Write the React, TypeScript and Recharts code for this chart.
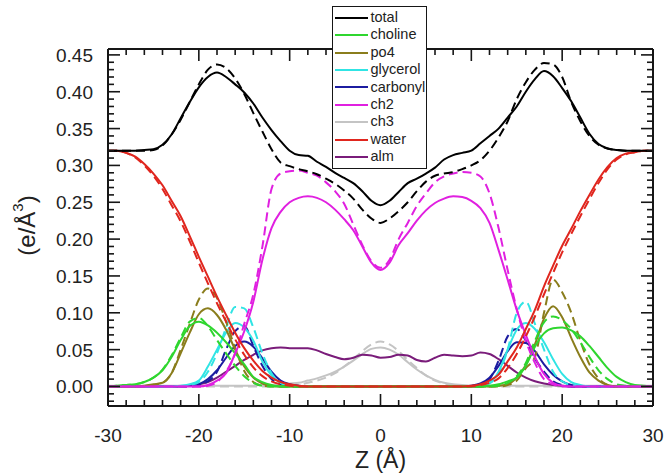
import React from 'react';
import { Legend, Line, LineChart, XAxis, YAxis } from 'recharts';

const FONT = '"Liberation Sans", Arial, Helvetica, sans-serif';

// Z (Å), 1 Å steps
const z = [
  -30, -29, -28, -27, -26, -25, -24, -23, -22, -21,
  -20, -19, -18, -17, -16, -15, -14, -13, -12, -11,
  -10, -9, -8, -7, -6, -5, -4, -3, -2, -1,
  0, 1, 2, 3, 4, 5, 6, 7, 8, 9,
  10, 11, 12, 13, 14, 15, 16, 17, 18, 19,
  20, 21, 22, 23, 24, 25, 26, 27, 28, 29,
  30,
];

const totalSolid = [
  0.32, 0.32, 0.32, 0.32, 0.321, 0.322, 0.328, 0.342, 0.364, 0.386,
  0.406, 0.42, 0.426, 0.42, 0.41, 0.399, 0.384, 0.365, 0.348, 0.333,
  0.32, 0.314, 0.313, 0.305, 0.298, 0.29, 0.283, 0.276, 0.265, 0.252,
  0.246, 0.252, 0.264, 0.276, 0.282, 0.289, 0.297, 0.308, 0.314, 0.317,
  0.32, 0.33, 0.34, 0.35, 0.365, 0.38, 0.4, 0.417, 0.428, 0.421,
  0.405, 0.387, 0.365, 0.343, 0.329, 0.323, 0.321, 0.32, 0.32, 0.32,
  0.32,
];
const totalDashed = [
  0.32, 0.32, 0.32, 0.32, 0.32, 0.321, 0.327, 0.342, 0.362, 0.386,
  0.41, 0.43, 0.437, 0.432, 0.418, 0.397, 0.371, 0.346, 0.322, 0.304,
  0.299, 0.295, 0.292, 0.288, 0.282, 0.275, 0.266, 0.255, 0.24, 0.228,
  0.222, 0.228, 0.238, 0.25, 0.265, 0.278, 0.286, 0.289, 0.291, 0.295,
  0.3, 0.307, 0.32, 0.338, 0.36, 0.39, 0.413, 0.43, 0.439, 0.437,
  0.42, 0.386, 0.36, 0.34, 0.328, 0.323, 0.321, 0.32, 0.32, 0.32,
  0.32,
];
const cholineSolid = [
  0, 0.001, 0.002, 0.003, 0.006, 0.012, 0.022, 0.04, 0.063, 0.082,
  0.088, 0.083, 0.073, 0.06, 0.045, 0.03, 0.013, 0.006, 0.002, 0,
  0, 0, 0, 0, 0, 0, 0, 0, 0, 0,
  0, 0, 0, 0, 0, 0, 0, 0, 0, 0,
  0, 0, 0.001, 0.003, 0.007, 0.012, 0.028, 0.054, 0.072, 0.079,
  0.08, 0.076, 0.068, 0.055, 0.04, 0.025, 0.013, 0.006, 0.002, 0.001,
  0,
];
const cholineDashed = [
  0, 0.001, 0.002, 0.003, 0.006, 0.012, 0.023, 0.042, 0.066, 0.088,
  0.093, 0.082, 0.063, 0.045, 0.028, 0.014, 0.005, 0.001, 0, 0,
  0, 0, 0, 0, 0, 0, 0, 0, 0, 0,
  0, 0, 0, 0, 0, 0, 0, 0, 0, 0,
  0, 0, 0, 0.001, 0.005, 0.014, 0.032, 0.062, 0.087, 0.095,
  0.09, 0.078, 0.06, 0.04, 0.022, 0.01, 0.003, 0.001, 0, 0,
  0,
];
const po4Solid = [
  0, 0, 0, 0, 0.001, 0.003, 0.005, 0.018, 0.045, 0.073,
  0.098, 0.106, 0.097, 0.077, 0.05, 0.027, 0.012, 0.004, 0.001, 0,
  0, 0, 0, 0, 0, 0, 0, 0, 0, 0,
  0, 0, 0, 0, 0, 0, 0, 0, 0, 0,
  0, 0, 0, 0.001, 0.003, 0.012, 0.029, 0.057, 0.092, 0.109,
  0.094, 0.066, 0.04, 0.019, 0.008, 0.002, 0, 0, 0, 0,
  0,
];
const po4Dashed = [
  0, 0, 0, 0, 0, 0.002, 0.005, 0.018, 0.05, 0.085,
  0.118, 0.133, 0.12, 0.088, 0.052, 0.021, 0.006, 0.001, 0, 0,
  0, 0, 0, 0, 0, 0, 0, 0, 0, 0,
  0, 0, 0, 0, 0, 0, 0, 0, 0, 0,
  0, 0, 0, 0, 0.002, 0.008, 0.025, 0.04, 0.1, 0.145,
  0.128, 0.1, 0.062, 0.03, 0.011, 0.002, 0, 0, 0, 0,
  0,
];
const glycerolSolid = [
  0, 0, 0, 0, 0, 0, 0, 0, 0.001, 0.003,
  0.008, 0.027, 0.05, 0.073, 0.086, 0.08, 0.062, 0.034, 0.015, 0.005,
  0.001, 0, 0, 0, 0, 0, 0, 0, 0, 0,
  0, 0, 0, 0, 0, 0, 0, 0, 0, 0,
  0, 0.001, 0.005, 0.02, 0.05, 0.077, 0.086, 0.078, 0.06, 0.037,
  0.017, 0.006, 0.002, 0, 0, 0, 0, 0, 0, 0,
  0,
];
const glycerolDashed = [
  0, 0, 0, 0, 0, 0, 0, 0, 0, 0.002,
  0.006, 0.02, 0.045, 0.08, 0.108, 0.106, 0.08, 0.045, 0.018, 0.005,
  0.001, 0, 0, 0, 0, 0, 0, 0, 0, 0,
  0, 0, 0, 0, 0, 0, 0, 0, 0, 0,
  0, 0, 0.004, 0.018, 0.05, 0.1, 0.115, 0.085, 0.05, 0.02,
  0.007, 0.002, 0, 0, 0, 0, 0, 0, 0, 0,
  0,
];
const carbonylSolid = [
  0, 0, 0, 0, 0, 0, 0, 0, 0, 0.001,
  0.003, 0.01, 0.022, 0.039, 0.055, 0.061, 0.054, 0.038, 0.02, 0.008,
  0.003, 0.001, 0, 0, 0, 0, 0, 0, 0, 0,
  0, 0, 0, 0, 0, 0, 0, 0, 0, 0,
  0.001, 0.004, 0.012, 0.028, 0.048, 0.06, 0.059, 0.048, 0.03, 0.016,
  0.007, 0.002, 0, 0, 0, 0, 0, 0, 0, 0,
  0,
];
const carbonylDashed = [
  0, 0, 0, 0, 0, 0, 0, 0, 0, 0,
  0.002, 0.007, 0.02, 0.05, 0.075, 0.082, 0.055, 0.028, 0.01, 0.003,
  0.001, 0, 0, 0, 0, 0, 0, 0, 0, 0,
  0, 0, 0, 0, 0, 0, 0, 0, 0, 0,
  0, 0.003, 0.01, 0.035, 0.068, 0.078, 0.062, 0.038, 0.02, 0.007,
  0.002, 0, 0, 0, 0, 0, 0, 0, 0, 0,
  0,
];
const ch2Solid = [
  0, 0, 0, 0, 0, 0, 0, 0, 0, 0,
  0, 0.002, 0.008, 0.018, 0.045, 0.075, 0.115, 0.172, 0.215, 0.237,
  0.25, 0.256, 0.258, 0.256, 0.25, 0.24, 0.227, 0.212, 0.19, 0.168,
  0.158, 0.168, 0.192, 0.208, 0.225, 0.239, 0.249, 0.255, 0.258, 0.257,
  0.252, 0.242, 0.222, 0.185, 0.145, 0.104, 0.07, 0.04, 0.017, 0.005,
  0.001, 0, 0, 0, 0, 0, 0, 0, 0, 0,
  0,
];
const ch2Dashed = [
  0, 0, 0, 0, 0, 0, 0, 0, 0, 0,
  0, 0.001, 0.006, 0.02, 0.045, 0.085, 0.125, 0.19, 0.268, 0.289,
  0.292, 0.293, 0.29, 0.286, 0.277, 0.265, 0.248, 0.22, 0.192, 0.17,
  0.161, 0.172, 0.2, 0.222, 0.245, 0.262, 0.277, 0.285, 0.289, 0.291,
  0.29, 0.285, 0.262, 0.215, 0.158, 0.105, 0.062, 0.032, 0.01, 0.003,
  0, 0, 0, 0, 0, 0, 0, 0, 0, 0,
  0,
];
const ch3Solid = [
  0.001, 0.001, 0.001, 0.001, 0.001, 0.001, 0.001, 0.001, 0.001, 0.001,
  0.001, 0.001, 0.001, 0.001, 0.001, 0.001, 0.001, 0.002, 0.002, 0.003,
  0.004, 0.005, 0.008, 0.011, 0.015, 0.02, 0.027, 0.035, 0.044, 0.051,
  0.053, 0.05, 0.043, 0.033, 0.023, 0.015, 0.009, 0.005, 0.003, 0.002,
  0.001, 0.001, 0.001, 0.001, 0.001, 0.001, 0.001, 0.001, 0.001, 0.001,
  0.001, 0.001, 0.001, 0.001, 0.001, 0.001, 0.001, 0.001, 0.001, 0.001,
  0.001,
];
const ch3Dashed = [
  0, 0, 0, 0, 0, 0, 0, 0, 0, 0,
  0, 0, 0, 0, 0, 0, 0, 0, 0, 0,
  0.001, 0.002, 0.005, 0.008, 0.012, 0.018, 0.027, 0.037, 0.048, 0.057,
  0.061, 0.057, 0.048, 0.036, 0.025, 0.015, 0.008, 0.004, 0.002, 0.001,
  0, 0, 0, 0, 0, 0, 0, 0, 0, 0,
  0, 0, 0, 0, 0, 0, 0, 0, 0, 0,
  0,
];
const waterSolid = [
  0.32, 0.32, 0.317, 0.312, 0.302, 0.289, 0.273, 0.252, 0.231, 0.204,
  0.176, 0.149, 0.122, 0.097, 0.073, 0.052, 0.035, 0.021, 0.012, 0.006,
  0.003, 0.001, 0, 0, 0, 0, 0, 0, 0, 0,
  0, 0, 0, 0, 0, 0, 0, 0, 0, 0,
  0.001, 0.003, 0.008, 0.016, 0.034, 0.053, 0.078, 0.104, 0.136, 0.164,
  0.191, 0.214, 0.238, 0.26, 0.281, 0.298, 0.31, 0.316, 0.318, 0.32,
  0.32,
];
const waterDashed = [
  0.32, 0.32, 0.317, 0.311, 0.3, 0.286, 0.268, 0.246, 0.224, 0.197,
  0.168, 0.14, 0.113, 0.088, 0.064, 0.043, 0.026, 0.014, 0.007, 0.003,
  0.001, 0, 0, 0, 0, 0, 0, 0, 0, 0,
  0, 0, 0, 0, 0, 0, 0, 0, 0, 0,
  0, 0.002, 0.005, 0.011, 0.025, 0.044, 0.068, 0.095, 0.125, 0.154,
  0.182, 0.207, 0.231, 0.254, 0.276, 0.295, 0.308, 0.315, 0.318, 0.32,
  0.32,
];
const almSolid = [
  0, 0, 0, 0, 0, 0, 0, 0, 0, 0.001,
  0.003, 0.006, 0.012, 0.02, 0.028, 0.036, 0.043, 0.049, 0.052, 0.053,
  0.052, 0.052, 0.052, 0.049, 0.044, 0.04, 0.037, 0.039, 0.043, 0.042,
  0.039, 0.04, 0.043, 0.042, 0.036, 0.034, 0.039, 0.043, 0.042, 0.041,
  0.042, 0.046, 0.044, 0.037, 0.028, 0.019, 0.012, 0.007, 0.004, 0.002,
  0.001, 0, 0, 0, 0, 0, 0, 0, 0, 0,
  0,
];

// legend order
const components = [
  { key: 'total', color: '#000000', solid: totalSolid, dashed: totalDashed },
  { key: 'choline', color: '#2fd62f', solid: cholineSolid, dashed: cholineDashed },
  { key: 'po4', color: '#8a7d1c', solid: po4Solid, dashed: po4Dashed },
  { key: 'glycerol', color: '#30e4e4', solid: glycerolSolid, dashed: glycerolDashed },
  { key: 'carbonyl', color: '#1c1ca0', solid: carbonylSolid, dashed: carbonylDashed },
  { key: 'ch2', color: '#e020e0', solid: ch2Solid, dashed: ch2Dashed },
  { key: 'ch3', color: '#c4c4c4', solid: ch3Solid, dashed: ch3Dashed },
  { key: 'water', color: '#e0261e', solid: waterSolid, dashed: waterDashed },
  { key: 'alm', color: '#7a1c7a', solid: almSolid, dashed: null as number[] | null },
];
const drawOrder = ['ch3', 'alm', 'carbonyl', 'glycerol', 'po4', 'choline', 'ch2', 'water', 'total'];

const xMajor = [-30, -20, -10, 0, 10, 20, 30];
const xTicks = Array.from({ length: 31 }, (_, i) => -30 + i * 2);
const yTicks = Array.from({ length: 48 }, (_, i) => (i - 2) / 100);

const rows = z.map((v, i) => {
  const row: Record<string, number> = { z: v };
  components.forEach((c) => {
    row[c.key + 'S'] = c.solid[i];
    if (c.dashed) row[c.key + 'D'] = c.dashed[i];
  });
  return row;
});

const ink = '#161616';
const isMajorY = (v: number) => Math.round(v * 100) % 5 === 0;

const BottomTick = ({ x, y, payload }: any) => {
  const major = xMajor.includes(payload.value);
  return (
    <g>
      <line x1={x} x2={x} y1={y} y2={y - (major ? 12 : 6)} stroke={ink} strokeWidth={1.6} />
      {major && (
        <text x={x} y={y + 36} textAnchor="middle" fontSize={19} fontFamily={FONT} fill="#222">
          {payload.value}
        </text>
      )}
    </g>
  );
};
const TopTick = ({ x, y, payload }: any) => (
  <line x1={x} x2={x} y1={y} y2={y + (xMajor.includes(payload.value) ? 12 : 6)} stroke={ink} strokeWidth={1.6} />
);
const LeftTick = ({ x, y, payload }: any) => {
  const major = isMajorY(payload.value);
  return (
    <g>
      <line x1={x} x2={x + (major ? 12 : 6)} y1={y} y2={y} stroke={ink} strokeWidth={1.6} />
      {major && (
        <text x={x - 15} y={y + 7} textAnchor="end" fontSize={19} fontFamily={FONT} fill="#222">
          {payload.value.toFixed(2)}
        </text>
      )}
    </g>
  );
};
const RightTick = ({ x, y, payload }: any) => (
  <line x1={x} x2={x - (isMajorY(payload.value) ? 12 : 6)} y1={y} y2={y} stroke={ink} strokeWidth={1.6} />
);

const LegendBox = () => (
  <div
    style={{
      border: `1.5px solid ${ink}`,
      background: '#fff',
      width: 91,
      padding: '2px 0 2px 1.5px',
      fontFamily: FONT,
      fontSize: 14.5,
      lineHeight: '17.4px',
      color: '#222',
    }}
  >
    {components.map((c) => (
      <div key={c.key} style={{ display: 'flex', alignItems: 'center', whiteSpace: 'nowrap' }}>
        <span style={{ display: 'inline-block', width: 33, height: 2, background: c.color, marginRight: 3 }} />
        <span>{c.key}</span>
      </div>
    ))}
  </div>
);

export default function App() {
  const ordered = drawOrder.map((k) => components.find((c) => c.key === k)!);
  return (
    <div style={{ position: 'absolute', left: 0, top: 0, background: '#fff' }}>
      <LineChart width={667} height={476} data={rows} margin={{ top: 48, right: 13, bottom: 0, left: 0 }}>
        <XAxis
          xAxisId="b"
          dataKey="z"
          type="number"
          domain={[-30, 30]}
          allowDataOverflow
          ticks={xTicks}
          interval={0}
          height={70}
          tickSize={0}
          tickMargin={0}
          tickLine={false}
          axisLine={{ stroke: ink, strokeWidth: 2 }}
          tick={BottomTick}
          label={({ viewBox }: any) => (
            <text
              x={viewBox.x + viewBox.width / 2}
              y={viewBox.y + 62}
              textAnchor="middle"
              fontSize={23}
              fontFamily={FONT}
              fill="#222"
            >
              Z (Å)
            </text>
          )}
        />
        <XAxis
          xAxisId="t"
          dataKey="z"
          type="number"
          orientation="top"
          domain={[-30, 30]}
          allowDataOverflow
          ticks={xTicks}
          interval={0}
          height={1}
          tickSize={0}
          tickMargin={0}
          tickLine={false}
          axisLine={{ stroke: ink, strokeWidth: 2 }}
          tick={TopTick}
        />
        <YAxis
          yAxisId="l"
          type="number"
          domain={[-0.0265, 0.458]}
          allowDataOverflow
          ticks={yTicks}
          interval={0}
          width={108}
          tickSize={0}
          tickMargin={0}
          tickLine={false}
          axisLine={{ stroke: ink, strokeWidth: 2 }}
          tick={LeftTick}
          label={({ viewBox }: any) => {
            const cx = viewBox.x + 26;
            const cy = viewBox.y + viewBox.height / 2 - 2;
            return (
              <text
                x={cx}
                y={cy}
                transform={`rotate(-90 ${cx} ${cy})`}
                textAnchor="middle"
                dominantBaseline="central"
                fontSize={24}
                fontFamily={FONT}
                fill="#222"
              >
                (e/Å
                <tspan dy={-9} fontSize={15}>3</tspan>
                <tspan dy={9}>)</tspan>
              </text>
            );
          }}
        />
        <YAxis
          yAxisId="r"
          type="number"
          orientation="right"
          domain={[-0.0265, 0.458]}
          allowDataOverflow
          ticks={yTicks}
          interval={0}
          width={1}
          tickSize={0}
          tickMargin={0}
          tickLine={false}
          axisLine={{ stroke: ink, strokeWidth: 2 }}
          tick={RightTick}
        />
        {ordered.flatMap((c) => {
          const lines = [];
          if (c.dashed) {
            lines.push(
              <Line
                key={c.key + 'D'}
                xAxisId="b"
                yAxisId="l"
                dataKey={c.key + 'D'}
                type="monotone"
                stroke={c.color}
                strokeWidth={2}
                strokeDasharray="9 5"
                dot={false}
                activeDot={false}
                legendType="none"
                isAnimationActive={false}
              />
            );
          }
          lines.push(
            <Line
              key={c.key + 'S'}
              xAxisId="b"
              yAxisId="l"
              dataKey={c.key + 'S'}
              name={c.key}
              type="monotone"
              stroke={c.color}
              strokeWidth={2}
              dot={false}
              activeDot={false}
              isAnimationActive={false}
            />
          );
          return lines;
        })}
        <Legend
          layout="vertical"
          align="center"
          verticalAlign="middle"
          content={<LegendBox />}
          wrapperStyle={{ left: 332, top: 6, width: 'auto', height: 'auto' }}
        />
      </LineChart>
    </div>
  );
}
